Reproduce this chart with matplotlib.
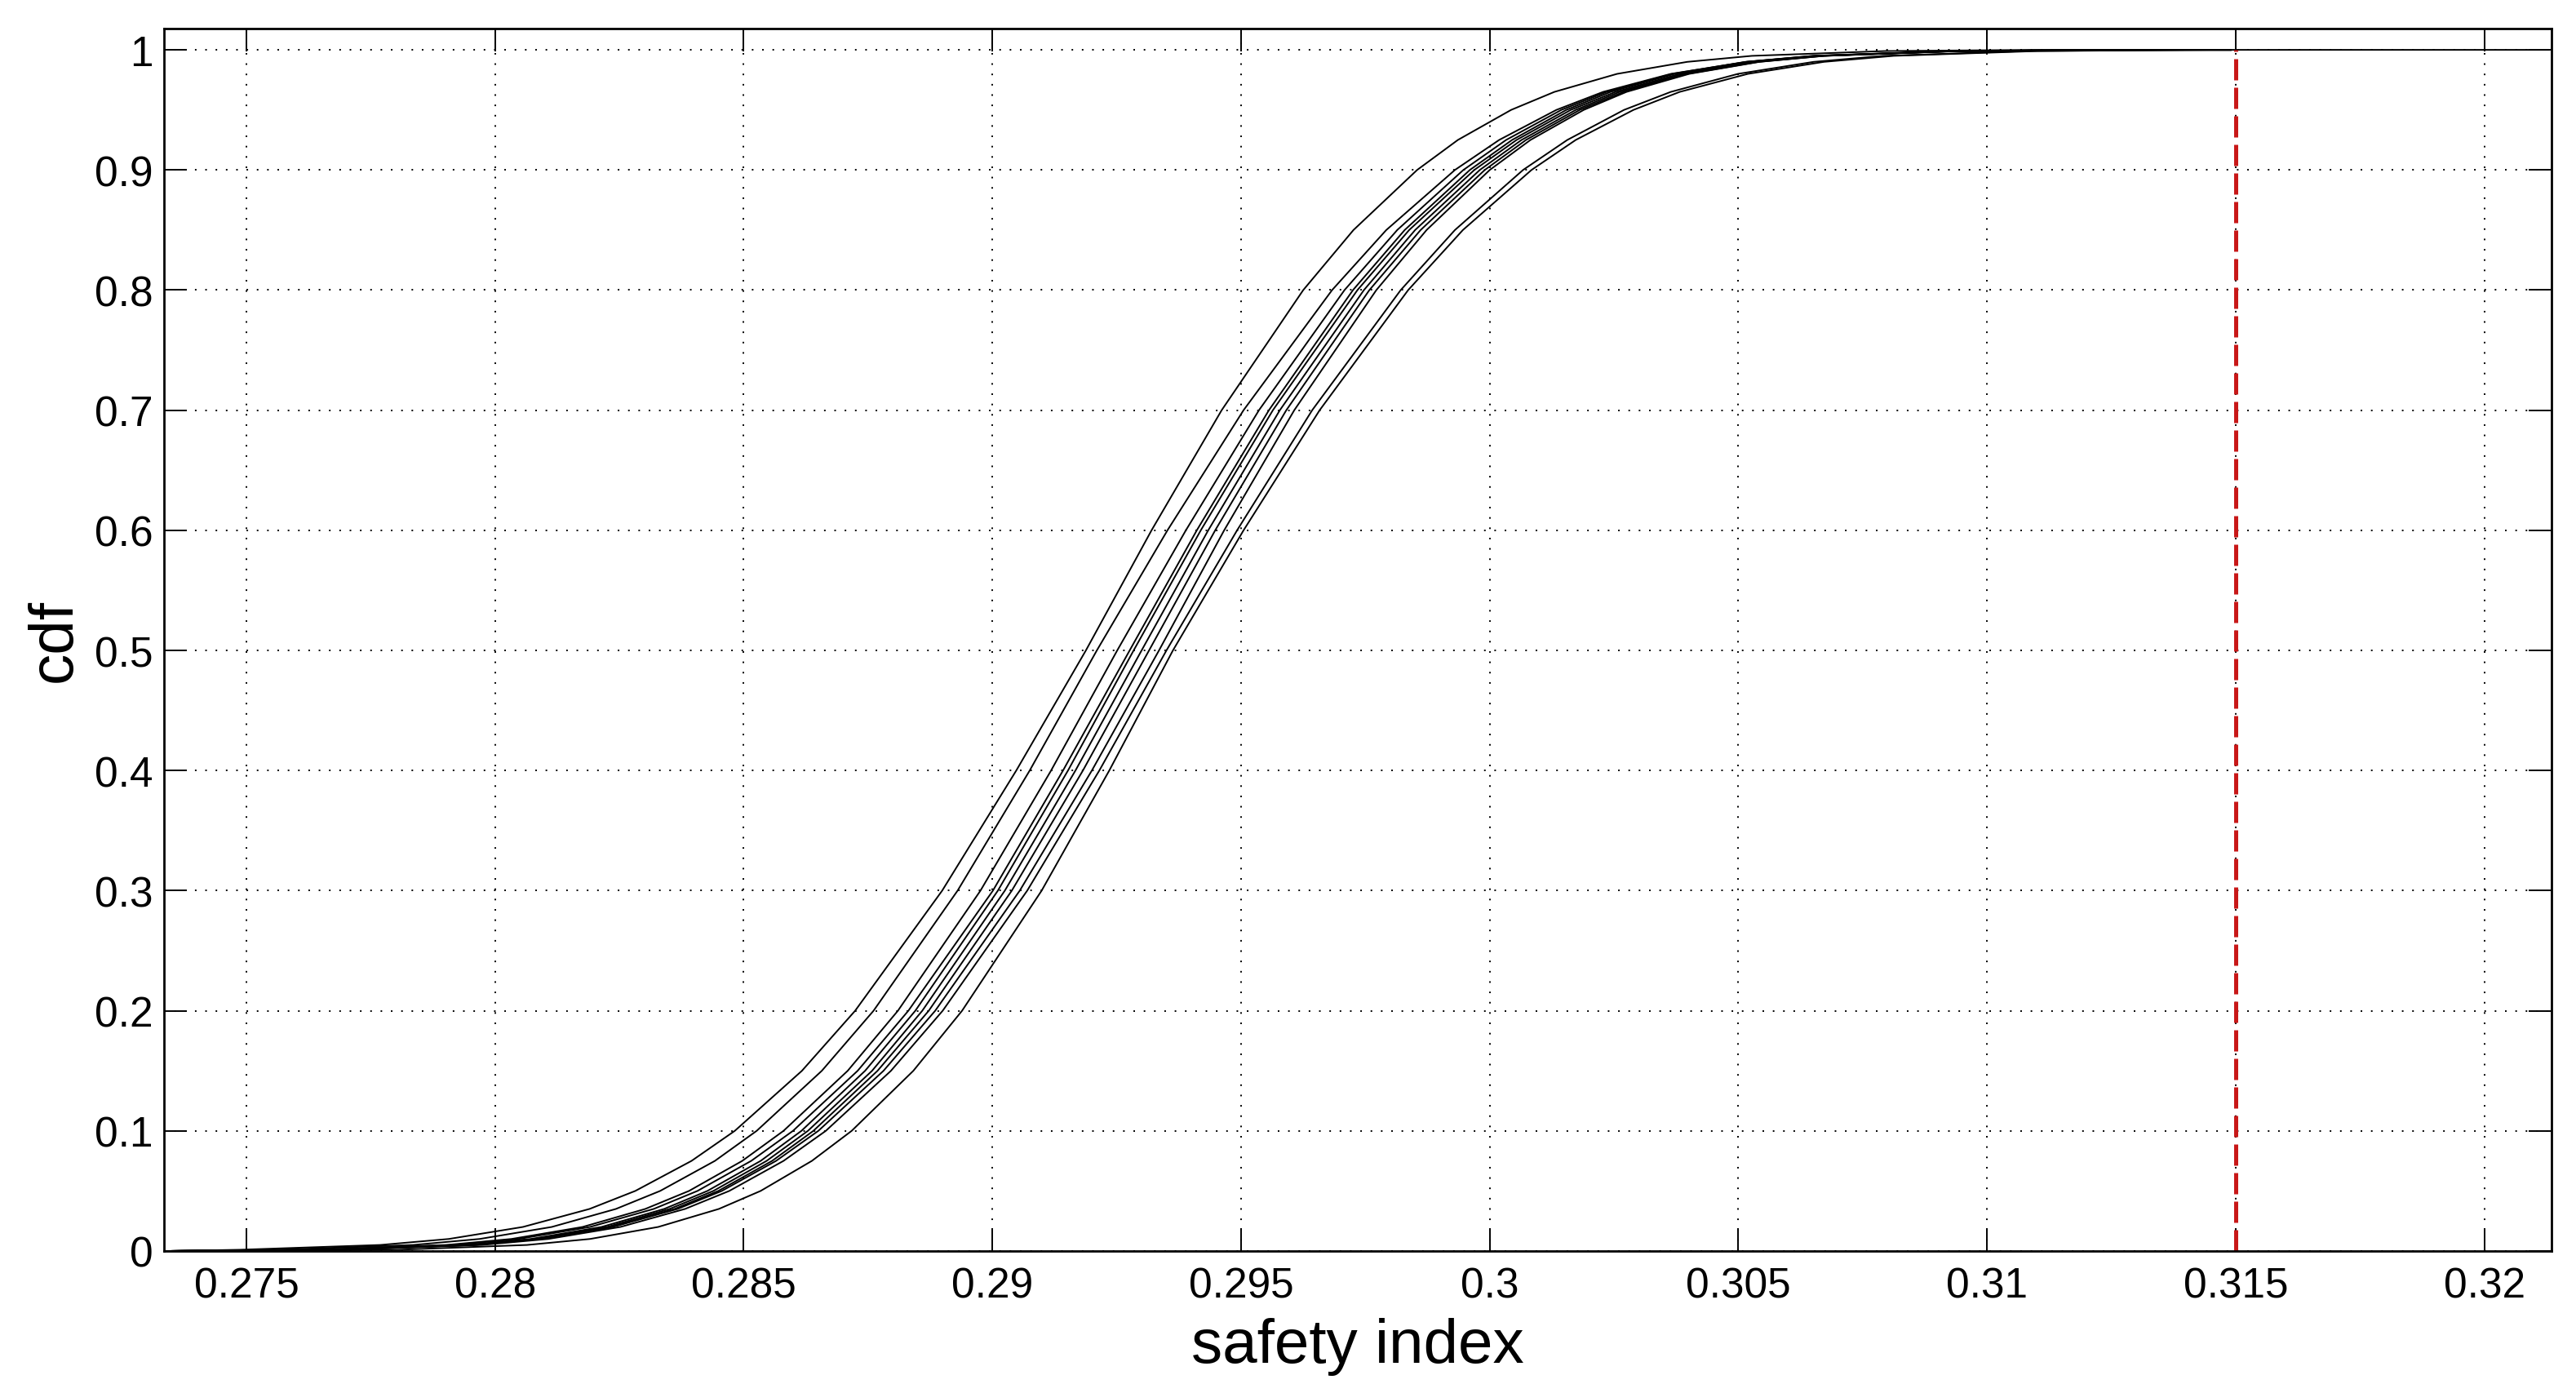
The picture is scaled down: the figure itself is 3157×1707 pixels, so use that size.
import matplotlib
matplotlib.use("Agg")
import matplotlib.pyplot as plt
import numpy as np

plt.rcParams['font.family'] = ['Liberation Sans', 'DejaVu Sans']

# cdf levels at which the safety index of each run was read
cdf_levels = [0, 0.001, 0.005, 0.01, 0.02, 0.035, 0.05, 0.075, 0.1, 0.15, 0.2, 0.3,
              0.4, 0.5, 0.6, 0.7, 0.8, 0.85, 0.9, 0.925, 0.95, 0.965, 0.98, 0.99,
              0.995, 0.999, 1.0]

run1 = [0.2735, 0.27486, 0.27769, 0.27907, 0.28056, 0.28190, 0.28282, 0.28395, 0.28482,
        0.28617, 0.28724, 0.28899, 0.29048, 0.29188, 0.29320, 0.29461, 0.29625, 0.29726,
        0.29854, 0.29936, 0.30043, 0.30130, 0.30256, 0.30397, 0.30527, 0.30794, 0.3110]
run2 = [0.2735, 0.27561, 0.27835, 0.27969, 0.28114, 0.28243, 0.28332, 0.28442, 0.28526,
        0.28657, 0.28761, 0.28930, 0.29075, 0.29210, 0.29352, 0.29505, 0.29683, 0.29792,
        0.29930, 0.30019, 0.30134, 0.30228, 0.30364, 0.30517, 0.30657, 0.30946, 0.3125]
run3 = [0.2735, 0.27633, 0.27902, 0.28033, 0.28176, 0.28302, 0.28390, 0.28497, 0.28580,
        0.28709, 0.28810, 0.28976, 0.29118, 0.29251, 0.29389, 0.29536, 0.29708, 0.29814,
        0.29947, 0.30033, 0.30144, 0.30235, 0.30367, 0.30514, 0.30650, 0.30929, 0.3125]
run4 = [0.2735, 0.27644, 0.27915, 0.28047, 0.28191, 0.28319, 0.28407, 0.28515, 0.28599,
        0.28729, 0.28831, 0.29001, 0.29142, 0.29276, 0.29411, 0.29556, 0.29725, 0.29829,
        0.29960, 0.30045, 0.30154, 0.30243, 0.30372, 0.30517, 0.30651, 0.30925, 0.3125]
run5 = [0.2735, 0.27674, 0.27941, 0.28072, 0.28214, 0.28340, 0.28427, 0.28534, 0.28616,
        0.28744, 0.28845, 0.29011, 0.29152, 0.29284, 0.29419, 0.29564, 0.29734, 0.29838,
        0.29969, 0.30054, 0.30163, 0.30253, 0.30382, 0.30527, 0.30661, 0.30936, 0.3128]
run6 = [0.2735, 0.27682, 0.27951, 0.28082, 0.28225, 0.28351, 0.28439, 0.28546, 0.28629,
        0.28758, 0.28859, 0.29025, 0.29167, 0.29300, 0.29434, 0.29578, 0.29747, 0.29850,
        0.29980, 0.30064, 0.30173, 0.30261, 0.30390, 0.30534, 0.30667, 0.30940, 0.3128]
run7 = [0.2735, 0.27688, 0.27958, 0.28090, 0.28233, 0.28361, 0.28449, 0.28557, 0.28640,
        0.28769, 0.28872, 0.29039, 0.29182, 0.29315, 0.29448, 0.29591, 0.29758, 0.29861,
        0.29990, 0.30073, 0.30181, 0.30269, 0.30397, 0.30540, 0.30672, 0.30943, 0.3130]
run8 = [0.2735, 0.27683, 0.27958, 0.28092, 0.28237, 0.28367, 0.28456, 0.28565, 0.28650,
        0.28781, 0.28885, 0.29055, 0.29200, 0.29335, 0.29466, 0.29607, 0.29772, 0.29873,
        0.30000, 0.30082, 0.30189, 0.30275, 0.30401, 0.30542, 0.30672, 0.30938, 0.3130]
run9 = [0.2735, 0.27698, 0.27973, 0.28107, 0.28252, 0.28382, 0.28471, 0.28580, 0.28665,
        0.28796, 0.28900, 0.29070, 0.29215, 0.29350, 0.29492, 0.29643, 0.29821, 0.29930,
        0.30067, 0.30156, 0.30270, 0.30364, 0.30499, 0.30651, 0.30791, 0.31079, 0.3140]
run10 = [0.2735, 0.27805, 0.28064, 0.28191, 0.28328, 0.28450, 0.28534, 0.28637, 0.28717,
         0.28841, 0.28939, 0.29099, 0.29235, 0.29363, 0.29505, 0.29658, 0.29836, 0.29946,
         0.30084, 0.30173, 0.30289, 0.30382, 0.30519, 0.30672, 0.30812, 0.31101, 0.3145]
runs = [run1, run2, run3, run4, run5, run6, run7, run8, run9, run10]

# where each run's flat part at cdf=1 stops
run_end = [0.3149, 0.3149, 0.3149, 0.3149, 0.3149, 0.3149, 0.3149, 0.3149, 0.3149, 0.3213]

threshold = 0.315

xticks = [0.275, 0.28, 0.285, 0.29, 0.295, 0.3, 0.305, 0.31, 0.315, 0.32]
xlabels = ['0.275', '0.28', '0.285', '0.29', '0.295', '0.3', '0.305', '0.31', '0.315', '0.32']
yticks = [0, 0.1, 0.2, 0.3, 0.4, 0.5, 0.6, 0.7, 0.8, 0.9, 1.0]
ylabels = ['0', '0.1', '0.2', '0.3', '0.4', '0.5', '0.6', '0.7', '0.8', '0.9', '1']

fig = plt.figure(figsize=(31.57, 17.08), dpi=100)
ax = fig.add_axes([0.0638, 0.1019, 0.9267, 0.8770])

for xs, xe in zip(runs, run_end):
    ax.plot(list(xs) + [xe], list(cdf_levels) + [1.0], color='black', lw=1.4)

ax.plot([threshold, threshold], [0, 1], color='#c81818', lw=3.6, dashes=(5.2, 1.8))

ax.set_xlim(0.27335, 0.32135)
ax.set_ylim(0, 1.0177)
ax.set_xticks(xticks)
ax.set_xticklabels(xlabels)
ax.set_yticks(yticks)
ax.set_yticklabels(ylabels)

ax.set_axisbelow(True)
ax.grid(True, color='black', lw=1.4, linestyle=(0, (1, 5.5)))

ax.tick_params(direction='in', length=20, width=1.4, top=True, right=True,
               labelsize=37, colors='black')
ax.tick_params(axis='x', pad=13)
ax.tick_params(axis='y', pad=10)
for sp in ax.spines.values():
    sp.set_linewidth(2.0)

ax.set_xlabel('safety index', fontsize=55)
ax.set_ylabel('cdf', fontsize=55)
ax.xaxis.set_label_coords(0.5, -0.054)
ax.yaxis.set_label_coords(-0.0337, 0.5)

fig.savefig('out.png', dpi=100)
